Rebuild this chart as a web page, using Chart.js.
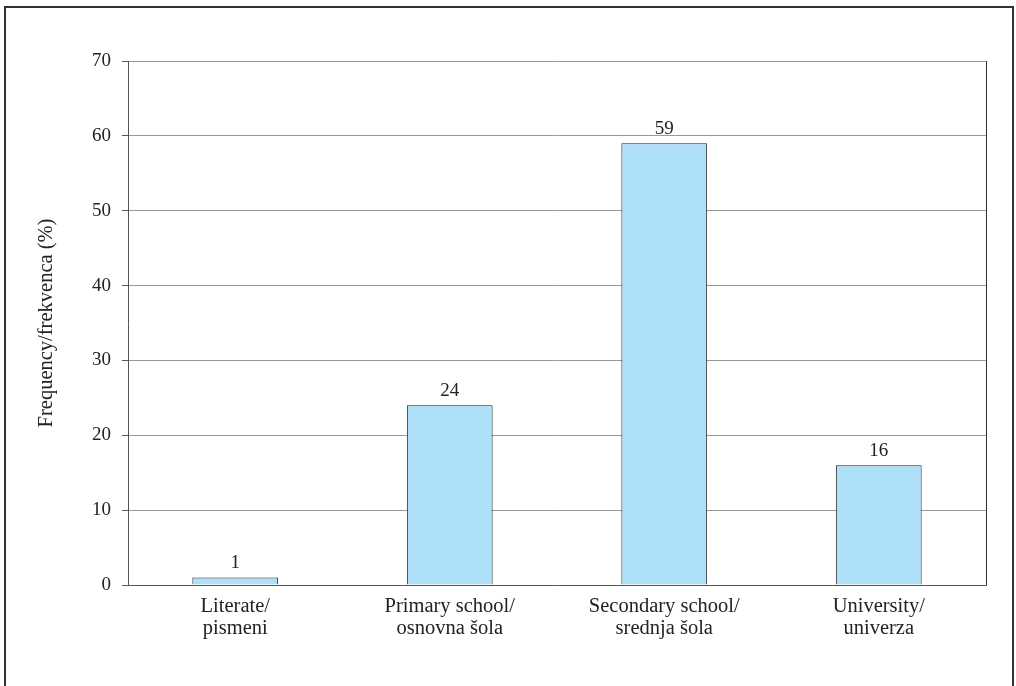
<!DOCTYPE html>
<html>
<head>
<meta charset="utf-8">
<script src="https://cdn.jsdelivr.net/npm/chart.js@4"></script>
<style>
  html, body { margin: 0; padding: 0; background: #fff; overflow: hidden; }
  #frame { position: absolute; left: 4px; top: 6px; width: 1006px; height: 700px; border: 2px solid #333; }
  #wrap { position: absolute; left: 0; top: 0; width: 1016px; height: 686px; }
</style>
</head>
<body>
<div id="frame"></div>
<div id="wrap"><canvas id="chart-bar"></canvas></div>
<script>
// education levels
var categories = [
  ['Literate/', 'pismeni'],
  ['Primary school/', 'osnovna šola'],
  ['Secondary school/', 'srednja šola'],
  ['University/', 'univerza']
];
var frekvenca = [1, 24, 59, 16];
var yTicks = [0, 10, 20, 30, 40, 50, 60, 70];

var serif = '"Liberation Serif", "Times New Roman", serif';

// value labels above bars + right frame line
var extras = {
  id: 'extras',
  afterDatasetsDraw: function(chart) {
    var ctx = chart.ctx;
    var area = chart.chartArea;
    ctx.save();
    ctx.strokeStyle = '#333';
    ctx.lineWidth = 1;
    ctx.beginPath();
    ctx.moveTo(Math.round(area.right) + 0.5, area.top);
    ctx.lineTo(Math.round(area.right) + 0.5, area.bottom);
    ctx.stroke();
    var meta = chart.getDatasetMeta(0);
    ctx.fillStyle = '#222';
    ctx.font = '19px ' + serif;
    ctx.textAlign = 'center';
    ctx.textBaseline = 'bottom';
    meta.data.forEach(function(bar, i) {
      ctx.fillText(frekvenca[i], bar.x, bar.y - 5);
    });
    ctx.restore();
  }
};

const ctx = document.getElementById('chart-bar').getContext('2d');
const myChart = new Chart(ctx, {
  type: 'bar',
  data: {
    labels: categories,
    datasets: [{
      label: 'Frequency/frekvenca (%)',
      data: frekvenca,
      backgroundColor: '#aee0f9',
      borderColor: '#222',
      borderWidth: 1,
      categoryPercentage: 1,
      barPercentage: 0.4
    }]
  },
  options: {
    responsive: true,
    maintainAspectRatio: false,
    animation: false,
    layout: { padding: { left: 0, top: 61, right: 30, bottom: 0 } },
    plugins: {
      legend: { display: false },
      tooltip: { enabled: false }
    },
    scales: {
      x: {
        grid: { display: false, drawTicks: false },
        border: { display: true, color: '#555', width: 1 },
        ticks: { color: '#222', font: { family: serif, size: 20.5, lineHeight: 1.05 }, padding: 11, maxRotation: 0 },
        afterFit: function(scale) { scale.height = 101; }
      },
      y: {
        min: 0,
        max: 70,
        afterBuildTicks: function(scale) {
          scale.ticks = yTicks.map(function(v) { return { value: v }; });
        },
        grid: { color: '#999', lineWidth: 1, tickLength: 6, tickColor: '#555' },
        border: { display: true, color: '#555', width: 1 },
        ticks: { color: '#222', font: { family: serif, size: 19 }, padding: 11 },
        title: {
          display: true,
          text: 'Frequency/frekvenca (%)',
          color: '#222',
          font: { family: serif, size: 20.5 },
          padding: { top: 34, bottom: 0 }
        },
        afterFit: function(scale) { scale.width = 128; }
      }
    }
  },
  plugins: [extras]
});
</script>
</body>
</html>
